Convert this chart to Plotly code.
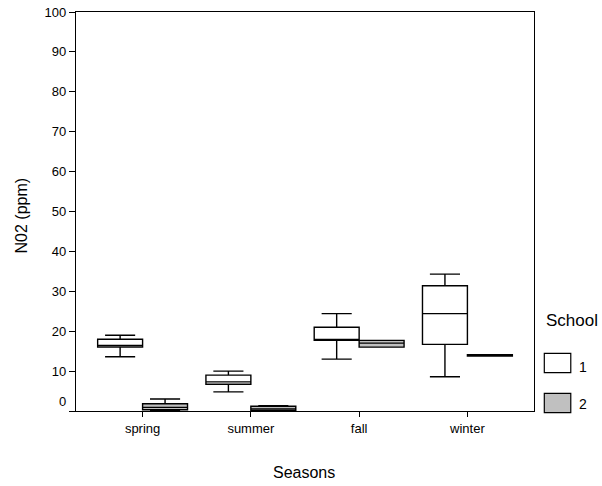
import plotly.graph_objects as go

seasons = ["spring", "summer", "fall", "winter"]
y_ticks = [0, 10, 20, 30, 40, 50, 60, 70, 80, 90, 100]

# School 1 box statistics
s1_low = [13.6, 4.8, 13.0, 8.6]
s1_q1 = [16.0, 6.7, 17.7, 16.7]
s1_med = [16.4, 7.3, 17.7, 24.4]
s1_q3 = [18.0, 9.0, 21.0, 31.4]
s1_high = [19.0, 10.0, 24.4, 34.3]

# School 2 box statistics
s2_low = [0.0, 0.0, 16.0, 13.8]
s2_q1 = [0.3, 0.1, 16.0, 13.8]
s2_med = [0.9, 0.5, 17.0, 14.0]
s2_q3 = [1.8, 1.2, 17.7, 14.1]
s2_high = [3.0, 1.3, 17.7, 14.1]

fig = go.Figure()
fig.add_trace(go.Box(
    x=seasons, q1=s1_q1, median=s1_med, q3=s1_q3,
    lowerfence=s1_low, upperfence=s1_high,
    name="1", offsetgroup="1",
    fillcolor="white", line=dict(color="black", width=1.4),
    whiskerwidth=0.67, showlegend=False, hoverinfo="skip",
))
fig.add_trace(go.Box(
    x=seasons, q1=s2_q1, median=s2_med, q3=s2_q3,
    lowerfence=s2_low, upperfence=s2_high,
    name="2", offsetgroup="2",
    fillcolor="#c0c0c0", line=dict(color="black", width=1.4),
    whiskerwidth=0.67, showlegend=False, hoverinfo="skip",
))

font = "Liberation Sans, Arial, sans-serif"

fig.update_layout(
    template="none",
    width=602, height=486, autosize=False,
    margin=dict(l=76, r=68, t=12, b=75, pad=0),
    paper_bgcolor="white", plot_bgcolor="white",
    boxmode="group", boxgap=0.17, boxgroupgap=0,
    font=dict(family=font, size=13, color="black"),
    hovermode=False,
    xaxis=dict(
        type="category", categoryorder="array", categoryarray=seasons,
        range=[-0.615, 3.615], automargin=False,
        showline=True, linecolor="black", linewidth=1.4, mirror=True,
        ticks="outside", ticklen=5, tickcolor="black",
        showgrid=False, zeroline=False,
        tickfont=dict(size=13),
    ),
    yaxis=dict(
        range=[0, 100], tickmode="array", automargin=False,
        tickvals=y_ticks,
        ticktext=[""] + [str(v) for v in y_ticks[1:]],
        showline=True, linecolor="black", linewidth=1.4, mirror=True,
        ticks="outside", ticklen=6, tickcolor="black",
        showgrid=False, zeroline=False,
        tickfont=dict(size=13),
    ),
    annotations=[
        dict(text=str(y_ticks[0]), xref="paper", yref="paper", x=-0.0175, y=0.0226,
             showarrow=False, font=dict(size=13), xanchor="right", yanchor="middle"),
        dict(text="N02 (ppm)", xref="paper", yref="paper", x=-0.118, y=0.49,
             textangle=-90, showarrow=False, font=dict(size=16),
             xanchor="center", yanchor="middle"),
        dict(text="Seasons", xref="paper", yref="paper", x=0.498, y=-0.155,
             showarrow=False, font=dict(size=16), xanchor="center", yanchor="middle"),
        dict(text="School", xref="paper", yref="paper", x=1.021, y=0.228,
             showarrow=False, font=dict(size=17), xanchor="left", yanchor="middle"),
        dict(text="1", xref="paper", yref="paper", x=1.093, y=0.111,
             showarrow=False, font=dict(size=14), xanchor="left", yanchor="middle"),
        dict(text="2", xref="paper", yref="paper", x=1.093, y=0.0175,
             showarrow=False, font=dict(size=14), xanchor="left", yanchor="middle"),
    ],
    shapes=[
        dict(type="rect", xref="paper", yref="paper", x0=1.0225, x1=1.0803,
             y0=0.096, y1=0.1446, fillcolor="white", line=dict(color="black", width=1.2)),
        dict(type="rect", xref="paper", yref="paper", x0=1.0225, x1=1.0803,
             y0=-0.0043, y1=0.0444, fillcolor="#c0c0c0", line=dict(color="black", width=1.2)),
    ],
)

fig.write_html("out.html", config={"displayModeBar": False},
               post_script="document.body.style.margin='0';")
